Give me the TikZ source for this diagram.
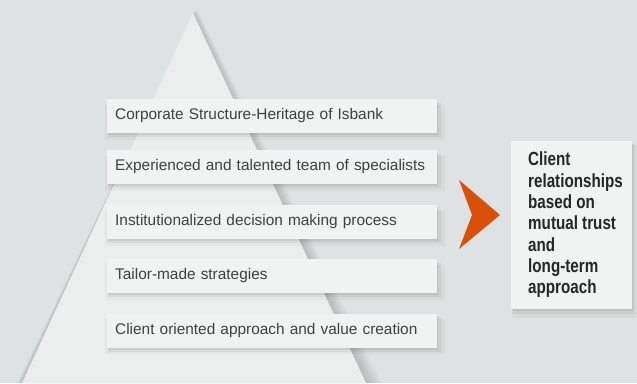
\documentclass[tikz,border=0pt]{standalone}
\usepackage{fontspec}
\setmainfont{Liberation Sans}
\newfontfamily\condfont[FakeStretch=0.8]{Liberation Sans}
\usetikzlibrary{positioning,shadows}
\definecolor{bggray}{RGB}{223,226,226}
\definecolor{pyrgray}{RGB}{236,238,238}
\definecolor{boxgray}{RGB}{241,242,242}
\definecolor{txtgray}{RGB}{64,64,64}
\definecolor{arrorange}{RGB}{217,80,10}

\tikzset{
  softshadow/.style={
    general shadow={fill=black, opacity=0.03, shadow xshift=3pt, shadow yshift=-6pt, shadow scale=1.03},
    general shadow={fill=black, opacity=0.05, shadow xshift=2pt, shadow yshift=-4pt, shadow scale=1.01},
    general shadow={fill=black, opacity=0.06, shadow xshift=1pt, shadow yshift=-2pt}},
  factorbox/.style={rectangle, fill=boxgray, softshadow, minimum width=330pt, minimum height=34pt,
    inner xsep=8pt, inner ysep=0pt, text width=314pt, align=left, anchor=west,
    text=txtgray, font=\fontsize{15.4}{18}\selectfont},
  resultbox/.style={rectangle, fill=boxgray, softshadow, minimum width=121pt, minimum height=168pt,
    anchor=north west, inner sep=0pt},
  resulttext/.style={anchor=north west, inner sep=0pt, align=left, text=black!85,
    font=\condfont\bfseries\fontsize{19}{21.3}\selectfont}
}

\begin{document}
\begin{tikzpicture}[x=1pt, y=-1pt]
\useasboundingbox (0,0) rectangle (637,383);
\fill[bggray] (0,0) rectangle (637,383);

% pyramid with soft shadow
\foreach \s in {1,...,8}
  \fill[black, opacity=0.02] (193+0.5*\s,13-0.5*\s) -- (366+2*\s,383) -- (22-0.6*\s,383) -- cycle;
\fill[pyrgray] (193,13) -- (366,383) -- (22,383) -- cycle;

% factors
\node[factorbox] (corp) at (107,116) {Corporate Structure-Heritage of Isbank};
\node[factorbox] (team) at (107,167) {Experienced and talented team of specialists};
\node[factorbox] (proc) at (107,222) {Institutionalized decision making process};
\node[factorbox] (tail) at (107,276) {Tailor-made strategies};
\node[factorbox] (clnt) at (107,330.5) {Client oriented approach and value creation};

% chevron
\fill[arrorange] (459,180) -- (500,215) -- (459,249) -- (472,215) -- cycle;

% result
\node[resultbox] (result) at (511,141) {};
\node[resulttext] (resultlbl) at ([xshift=17pt, yshift=-11pt]result.north west)
  {Client\\relationships\\based on\\mutual trust\\and\\long-term\\approach};
\end{tikzpicture}
\end{document}
